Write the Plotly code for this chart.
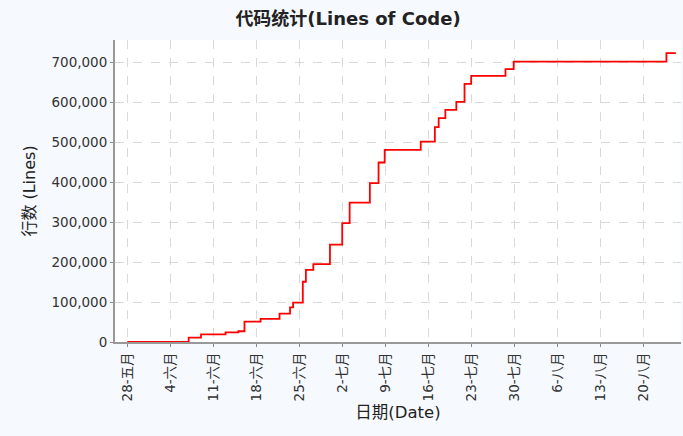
import plotly.graph_objects as go

# Step points (date, cumulative lines)
dates = [
    "2009-05-28 00:00", "2009-06-07 00:00", "2009-06-09 00:00", "2009-06-13 00:00",
    "2009-06-15 02:00", "2009-06-16 02:00", "2009-06-18 17:00", "2009-06-21 19:00",
    "2009-06-23 12:00", "2009-06-24 00:00", "2009-06-25 14:00", "2009-06-26 02:00",
    "2009-06-27 07:00", "2009-06-30 00:00", "2009-07-02 00:00", "2009-07-03 05:00",
    "2009-07-06 12:00", "2009-07-07 22:00", "2009-07-08 22:00", "2009-07-14 19:00",
    "2009-07-17 02:00", "2009-07-17 17:00", "2009-07-18 19:00", "2009-07-20 14:00",
    "2009-07-21 22:00", "2009-07-23 00:00", "2009-07-28 14:00", "2009-07-29 22:00",
    "2009-08-23 19:00", "2009-08-25 08:00",
]
lines = [
    0, 11000, 19000, 24000,
    27000, 51000, 58000, 71000,
    87000, 98600, 151000, 180600,
    195000, 244000, 298000, 349500,
    398000, 450000, 481700, 502500,
    538600, 561000, 582000, 602000,
    647000, 667000, 684000, 703000,
    724000, 724000,
]

tick_dates = [
    "2009-05-28", "2009-06-04", "2009-06-11", "2009-06-18", "2009-06-25",
    "2009-07-02", "2009-07-09", "2009-07-16", "2009-07-23", "2009-07-30",
    "2009-08-06", "2009-08-13", "2009-08-20",
]
tick_labels = [
    "28-五月", "4-六月", "11-六月", "18-六月", "25-六月",
    "2-七月", "9-七月", "16-七月", "23-七月", "30-七月",
    "6-八月", "13-八月", "20-八月",
]
y_ticks = [0, 100000, 200000, 300000, 400000, 500000, 600000, 700000]

title_text = "代码统计(Lines of Code)"
x_title = "日期(Date)"
y_title = "行数 (Lines)"

font_family = "DejaVu Sans, Noto Sans CJK SC, sans-serif"

fig = go.Figure(
    go.Scatter(
        x=dates, y=lines, mode="lines",
        line=dict(shape="hv", color="#FF0000", width=1.8),
        hoverinfo="x+y",
    )
)

fig.update_layout(
    width=683, height=436,
    paper_bgcolor="#F6F9FE",
    plot_bgcolor="#FFFFFF",
    margin=dict(l=115, r=2, t=40, b=94, autoexpand=False),
    showlegend=False,
    font=dict(family=font_family, size=13.5, color="#333333"),
    title=dict(
        text="<b>" + title_text + "</b>",
        x=348 / 683, xref="container", xanchor="center",
        y=1 - 19 / 436, yref="container", yanchor="middle",
        font=dict(family=font_family, size=18, color="#222222"),
    ),
)

fig.update_xaxes(
    type="date",
    range=["2009-05-26 00:00", "2009-08-26 04:00"],
    tickmode="array", tickvals=tick_dates, ticktext=tick_labels,
    tickangle=-90,
    ticks="outside", ticklen=3, tickcolor="#888888",
    showline=True, linecolor="#999999", linewidth=2,
    showgrid=True, gridcolor="#D9D9D9", griddash="dash", gridwidth=1,
    zeroline=False, layer="below traces",
    title=dict(text=x_title, font=dict(size=16.5, color="#222222"), standoff=6),
    tickfont=dict(size=13.5, color="#333333"),
    automargin=False,
)

fig.update_yaxes(
    range=[0, 757000],
    tickmode="array", tickvals=y_ticks,
    tickformat=",d",
    ticks="outside", ticklen=3, tickcolor="#888888",
    showline=True, linecolor="#999999", linewidth=2,
    showgrid=True, gridcolor="#D9D9D9", griddash="dash", gridwidth=1,
    zeroline=False, layer="below traces",
    title=dict(text=y_title, font=dict(size=16, color="#222222"), standoff=12),
    tickfont=dict(size=13.5, color="#333333"),
    automargin=False,
)

fig.write_html(
    "out.html",
    config={"displayModeBar": False},
    post_script="document.body.style.margin='0';document.body.style.padding='0';",
)
